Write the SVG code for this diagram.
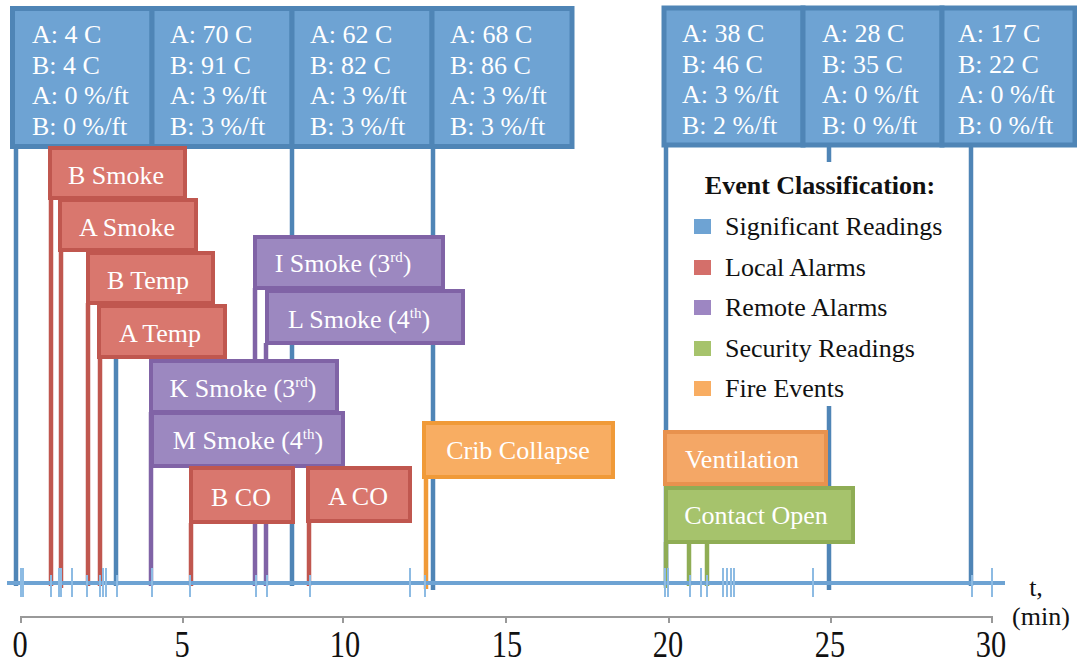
<svg xmlns="http://www.w3.org/2000/svg" width="1077" height="667" viewBox="0 0 1077 667">
<style>
text{font-family:"Liberation Serif","Times New Roman",serif;}
.bx{fill:#6ea3d3;stroke:#4f85b6;stroke-width:5;}
.bt{fill:#fff;font-size:26px;}
.lt{fill:#fff;font-size:26px;text-anchor:middle;}
.red{fill:#d9776e;stroke:#c0574f;stroke-width:4;}
.pur{fill:#9c88c0;stroke:#8063a6;stroke-width:4;}
.ora{fill:#f8ad62;stroke:#f09a38;stroke-width:4;}
.ven{fill:#f4a766;stroke:#e8924e;stroke-width:4;}
.grn{fill:#a6c36c;stroke:#8fad55;stroke-width:4;}
.lb{stroke:#4f85b6;stroke-width:4.5;}
.lr{stroke:#c0574f;stroke-width:4.5;}
.lp{stroke:#8063a6;stroke-width:4.5;}
.lo{stroke:#f09a38;stroke-width:4.5;}
.lg{stroke:#8fad55;stroke-width:4.5;}
.tk{stroke:#8dbbe3;stroke-width:2;}
.sup{font-size:15px;}
.leg{fill:#111;font-size:26px;}
.ax{fill:#111;font-size:38px;text-anchor:middle;}
</style>
<rect width="1077" height="667" fill="#fff"/>
<g id="connectors" fill="none">
  <line class="lb" x1="16" y1="147" x2="16" y2="586"/>
  <line class="lb" x1="116" y1="147" x2="116" y2="586"/>
  <line class="lb" x1="292" y1="147" x2="292" y2="586"/>
  <line class="lb" x1="433" y1="147" x2="433" y2="590"/>
  <line class="lb" x1="666" y1="147" x2="666" y2="586"/>
  <line class="lb" x1="829" y1="147" x2="829" y2="590"/>
  <line class="lb" x1="971" y1="147" x2="971" y2="586"/>
  <line class="lr" x1="51" y1="198" x2="51" y2="586"/>
  <line class="lr" x1="61" y1="250" x2="61" y2="588"/>
  <line class="lr" x1="88" y1="303" x2="88" y2="586"/>
  <line class="lr" x1="100" y1="357" x2="100" y2="586"/>
  <line class="lr" x1="191" y1="523" x2="191" y2="586"/>
  <line class="lr" x1="309" y1="522" x2="309" y2="586"/>
  <line class="lp" x1="151" y1="412" x2="151" y2="586"/>
  <line class="lp" x1="255" y1="288" x2="255" y2="586"/>
  <line class="lp" x1="266" y1="343" x2="266" y2="586"/>
  <line class="lo" x1="426" y1="477" x2="426" y2="589"/>
  <line class="lg" x1="666" y1="542" x2="666" y2="588"/>
  <line class="lg" x1="689" y1="542" x2="689" y2="586"/>
  <line class="lg" x1="707" y1="542" x2="707" y2="586"/>
  <line x1="7" y1="583" x2="1005" y2="583" stroke="#6ea3d3" stroke-width="4"/>
  <g class="tk">
    <line x1="21" y1="568" x2="21" y2="597"/><line x1="23" y1="568" x2="23" y2="597"/>
    <line x1="51" y1="575" x2="51" y2="597"/><line x1="59" y1="568" x2="59" y2="597"/>
    <line x1="61" y1="568" x2="61" y2="597"/><line x1="72" y1="568" x2="72" y2="597"/>
    <line x1="87" y1="575" x2="87" y2="597"/><line x1="100" y1="575" x2="100" y2="597"/>
    <line x1="103" y1="568" x2="103" y2="597"/><line x1="106" y1="568" x2="106" y2="597"/>
    <line x1="117" y1="575" x2="117" y2="597"/><line x1="152" y1="568" x2="152" y2="597"/>
    <line x1="190" y1="575" x2="190" y2="597"/><line x1="256" y1="575" x2="256" y2="597"/>
    <line x1="267" y1="575" x2="267" y2="597"/><line x1="310" y1="575" x2="310" y2="597"/>
    <line x1="410" y1="568" x2="410" y2="597"/><line x1="425" y1="575" x2="425" y2="597"/>
    <line x1="665" y1="568" x2="665" y2="597"/><line x1="668" y1="568" x2="668" y2="597"/>
    <line x1="690" y1="575" x2="690" y2="597"/><line x1="701" y1="568" x2="701" y2="597"/>
    <line x1="707" y1="575" x2="707" y2="597"/><line x1="723" y1="568" x2="723" y2="597"/>
    <line x1="727" y1="568" x2="727" y2="597"/><line x1="731" y1="568" x2="731" y2="597"/>
    <line x1="734" y1="568" x2="734" y2="597"/><line x1="813" y1="568" x2="813" y2="597"/>
    <line x1="972" y1="575" x2="972" y2="597"/><line x1="992" y1="568" x2="992" y2="597"/>
  </g>
</g>
<g id="axis">
  <path d="M21,623 V617 H992 V623 M183,617 V623 M343,617 V623 M506,617 V623 M669,617 V623 M831,617 V623" fill="none" stroke="#999" stroke-width="2"/>
  <text class="ax" transform="translate(20,657) scale(0.8,1)">0</text>
  <text class="ax" transform="translate(182,657) scale(0.8,1)">5</text>
  <text class="ax" transform="translate(345,657) scale(0.8,1)">10</text>
  <text class="ax" transform="translate(507,657) scale(0.8,1)">15</text>
  <text class="ax" transform="translate(668,657) scale(0.8,1)">20</text>
  <text class="ax" transform="translate(830,657) scale(0.8,1)">25</text>
  <text class="ax" transform="translate(991,657) scale(0.8,1)">30</text>
  <text x="1036" y="596" font-size="26" text-anchor="middle" fill="#111">t,</text>
  <text x="1041" y="625" font-size="26" text-anchor="middle" fill="#111">(min)</text>
</g>
<g id="legend">
  <rect x="669" y="162" width="290" height="244" fill="#fff"/>
  <text x="820" y="194" font-size="26" font-weight="bold" text-anchor="middle" fill="#111">Event Classification:</text>
  <rect x="694" y="219" width="17" height="15" fill="#6ea3d3"/>
  <text class="leg" x="725" y="235">Significant Readings</text>
  <rect x="694" y="260" width="17" height="15" fill="#d46f6a"/>
  <text class="leg" x="725" y="276">Local Alarms</text>
  <rect x="694" y="300" width="17" height="15" fill="#9d86c2"/>
  <text class="leg" x="725" y="316">Remote Alarms</text>
  <rect x="694" y="341" width="17" height="15" fill="#a6c36c"/>
  <text class="leg" x="725" y="357">Security Readings</text>
  <rect x="694" y="381" width="17" height="15" fill="#f8ad62"/>
  <text class="leg" x="725" y="397">Fire Events</text>
</g>
<g id="r1"><rect class="bx" x="12.5" y="8.5" width="139.5" height="138"/>
  <text class="bt" x="32" y="43">A: 4 C</text><text class="bt" x="32" y="74">B: 4 C</text><text class="bt" x="32" y="104">A: 0 %/ft</text><text class="bt" x="32" y="135">B: 0 %/ft</text></g>
<g id="r2"><rect class="bx" x="152" y="8.5" width="140" height="138"/>
  <text class="bt" x="170" y="43">A: 70 C</text><text class="bt" x="170" y="74">B: 91 C</text><text class="bt" x="170" y="104">A: 3 %/ft</text><text class="bt" x="170" y="135">B: 3 %/ft</text></g>
<g id="r3"><rect class="bx" x="292" y="8.5" width="140" height="138"/>
  <text class="bt" x="310" y="43">A: 62 C</text><text class="bt" x="310" y="74">B: 82 C</text><text class="bt" x="310" y="104">A: 3 %/ft</text><text class="bt" x="310" y="135">B: 3 %/ft</text></g>
<g id="r4"><rect class="bx" x="432" y="8.5" width="140" height="138"/>
  <text class="bt" x="450" y="43">A: 68 C</text><text class="bt" x="450" y="74">B: 86 C</text><text class="bt" x="450" y="104">A: 3 %/ft</text><text class="bt" x="450" y="135">B: 3 %/ft</text></g>
<g id="r5"><rect class="bx" x="664" y="8" width="139" height="137"/>
  <text class="bt" x="682" y="42">A: 38 C</text><text class="bt" x="682" y="73">B: 46 C</text><text class="bt" x="682" y="103">A: 3 %/ft</text><text class="bt" x="682" y="134">B: 2 %/ft</text></g>
<g id="r6"><rect class="bx" x="803" y="8" width="139" height="137"/>
  <text class="bt" x="822" y="42">A: 28 C</text><text class="bt" x="822" y="73">B: 35 C</text><text class="bt" x="822" y="103">A: 0 %/ft</text><text class="bt" x="822" y="134">B: 0 %/ft</text></g>
<g id="r7"><rect class="bx" x="942" y="8" width="133" height="137"/>
  <text class="bt" x="958" y="42">A: 17 C</text><text class="bt" x="958" y="73">B: 22 C</text><text class="bt" x="958" y="103">A: 0 %/ft</text><text class="bt" x="958" y="134">B: 0 %/ft</text></g>
<g id="bsmoke"><rect class="red" x="50" y="148" width="135" height="50"/><text class="lt" x="116" y="184">B Smoke</text></g>
<g id="asmoke"><rect class="red" x="60" y="200" width="136" height="50"/><text class="lt" x="127" y="236">A Smoke</text></g>
<g id="btemp"><rect class="red" x="88" y="253" width="125" height="50"/><text class="lt" x="148" y="289">B Temp</text></g>
<g id="atemp"><rect class="red" x="99" y="306" width="126" height="51"/><text class="lt" x="160" y="342">A Temp</text></g>
<g id="ismoke"><rect class="pur" x="255" y="237" width="188" height="51"/><text class="lt" x="343" y="272">I Smoke (3<tspan class="sup" dy="-10">rd</tspan><tspan dy="10">)</tspan></text></g>
<g id="lsmoke"><rect class="pur" x="267" y="291" width="196" height="52"/><text class="lt" x="359" y="328">L Smoke (4<tspan class="sup" dy="-10">th</tspan><tspan dy="10">)</tspan></text></g>
<g id="ksmoke"><rect class="pur" x="151" y="361" width="186" height="51"/><text class="lt" x="243" y="397">K Smoke (3<tspan class="sup" dy="-10">rd</tspan><tspan dy="10">)</tspan></text></g>
<g id="msmoke"><rect class="pur" x="152" y="413" width="191" height="53"/><text class="lt" x="248" y="449">M Smoke (4<tspan class="sup" dy="-10">th</tspan><tspan dy="10">)</tspan></text></g>
<g id="bco"><rect class="red" x="191" y="468" width="102" height="54"/><text class="lt" x="241" y="506">B CO</text></g>
<g id="aco"><rect class="red" x="308" y="468" width="102" height="53"/><text class="lt" x="358" y="505">A CO</text></g>
<g id="crib"><rect class="ora" x="424" y="423" width="189" height="54"/><text class="lt" x="518" y="459">Crib Collapse</text></g>
<g id="vent"><rect class="ven" x="665" y="432" width="161" height="52"/><text class="lt" x="742" y="468">Ventilation</text></g>
<g id="contact"><rect class="grn" x="666" y="488" width="187" height="54"/><text class="lt" x="756" y="524">Contact Open</text></g>
</svg>
